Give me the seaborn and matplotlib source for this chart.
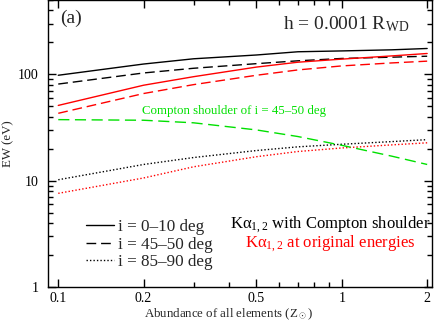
import numpy as np
import pandas as pd
import matplotlib
matplotlib.use("Agg")
import matplotlib.pyplot as plt
import seaborn as sns
from matplotlib.lines import Line2D
from matplotlib.ticker import FixedLocator, NullFormatter, LogLocator

sns.set_style("ticks")
plt.rcParams["font.family"] = ["Liberation Serif", "DejaVu Serif"]
plt.rcParams["mathtext.fontset"] = "custom"
plt.rcParams["mathtext.rm"] = "Liberation Serif"
plt.rcParams["mathtext.it"] = "Liberation Serif:italic"

# abundance of all elements (solar units)
abundance = [0.1, 0.2, 0.3, 0.5, 0.7, 1.0, 1.5, 2.0]

# K-alpha with Compton shoulder
ew_comp_0_10 = [98, 125, 140, 152, 163, 166, 170, 175]
ew_comp_45_50 = [81, 103, 114, 126, 134, 141, 145, 148]
ew_comp_85_90 = [10.2, 14.2, 16.5, 19.2, 20.8, 22.0, 23.3, 24.3]

# K-alpha at original energies
ew_orig_0_10 = [51, 79, 95, 117, 130, 139, 149, 157]
ew_orig_45_50 = [43, 66, 80, 98, 110, 120, 128, 133]
ew_orig_85_90 = [7.6, 10.6, 13.5, 16.8, 18.8, 20.3, 21.7, 22.7]

# Compton shoulder alone, i = 45-50 deg
ew_shoulder_45_50 = [37.5, 37.0, 35.0, 30.0, 26.0, 21.5, 17.0, 14.2]

GREEN = "#00e000"
SOLID = "-"
DASHED = (0, (7, 3.5))
DOTTED = (0, (1, 1.5))

series = [
    (ew_comp_0_10, "black", SOLID),
    (ew_comp_45_50, "black", DASHED),
    (ew_comp_85_90, "black", DOTTED),
    (ew_orig_0_10, "red", SOLID),
    (ew_orig_45_50, "red", DASHED),
    (ew_orig_85_90, "red", DOTTED),
    (ew_shoulder_45_50, GREEN, (0, (8, 4))),
]

fig = plt.figure(figsize=(4.36, 3.22), dpi=100)
ax = fig.add_axes([48 / 436, 35 / 322, 384 / 436, 287 / 322])

for vals, color, ls in series:
    df = pd.DataFrame({"abund": abundance, "ew": vals})
    sns.lineplot(data=df, x="abund", y="ew", ax=ax, color=color,
                 linestyle=ls, linewidth=1.0)

ax.set_xscale("log")
ax.set_yscale("log")
ax.set_xlim(0.092, 2.08)
ax.set_ylim(1, 500)

ax.xaxis.set_major_locator(FixedLocator([0.1, 0.2, 0.5, 1, 2]))
ax.xaxis.set_minor_locator(FixedLocator([0.3, 0.4, 0.6, 0.7, 0.8, 0.9]))
ax.set_xticklabels(["0.1", "0.2", "0.5", "1", "2"])
ax.xaxis.set_minor_formatter(NullFormatter())
ax.yaxis.set_major_locator(FixedLocator([1, 10, 100]))
ax.yaxis.set_minor_locator(LogLocator(base=10, subs=np.arange(2, 10)))
ax.set_yticklabels(["1", "10", "100"])
ax.yaxis.set_minor_formatter(NullFormatter())

ax.tick_params(which="both", direction="in", top=True, right=True,
               width=1.0, colors="black", labelsize=10)
ax.tick_params(which="major", length=5.5)
ax.tick_params(which="minor", length=3.5)
ax.tick_params(axis="x", pad=3.5)
ax.tick_params(axis="y", pad=7)
for sp in ax.spines.values():
    sp.set_linewidth(1.0)
    sp.set_color("black")

ax.set_xlabel(r"Abundance of all elements (Z$_\odot$)", fontsize=9.3)
ax.set_ylabel("EW (eV)", fontsize=9.3)
ax.xaxis.set_label_coords(0.469, -0.068)
ax.yaxis.set_label_coords(-0.088, 0.5)

ax.text(0.031, 0.937, "(a)", transform=ax.transAxes, fontsize=14,
        ha="left", va="center")
ax.text(0.94, 0.899, r"h = 0.0001 R$_{\rm WD}$", transform=ax.transAxes,
        fontsize=14, ha="right", va="baseline")
ax.text(0.245, 0.603, "Compton shoulder of i = 45\u201350 deg",
        transform=ax.transAxes, fontsize=9.3, color=GREEN,
        ha="left", va="baseline")
ax.text(0.734, 0.206, "K\u03b1$_{1,2}$ with Compton shoulder",
        transform=ax.transAxes, fontsize=12, color="black",
        ha="center", va="baseline")
ax.text(0.734, 0.139, "K\u03b1$_{1,2}$ at original energies",
        transform=ax.transAxes, fontsize=12, color="red",
        ha="center", va="baseline")

handles = [
    Line2D([], [], color="black", linestyle=SOLID, linewidth=1.0),
    Line2D([], [], color="black", linestyle=DASHED, linewidth=1.0),
    Line2D([], [], color="black", linestyle=DOTTED, linewidth=1.0),
]
labels = ["i = 0\u201310 deg", "i = 45\u201350 deg", "i = 85\u201390 deg"]
ax.legend(handles, labels, loc="lower left", bbox_to_anchor=(0.10, 0.058),
          frameon=False, fontsize=12.3, borderpad=0, borderaxespad=0,
          handlelength=1.6, handletextpad=0.25, labelspacing=0.1)

fig.savefig("out.png", dpi=100)
